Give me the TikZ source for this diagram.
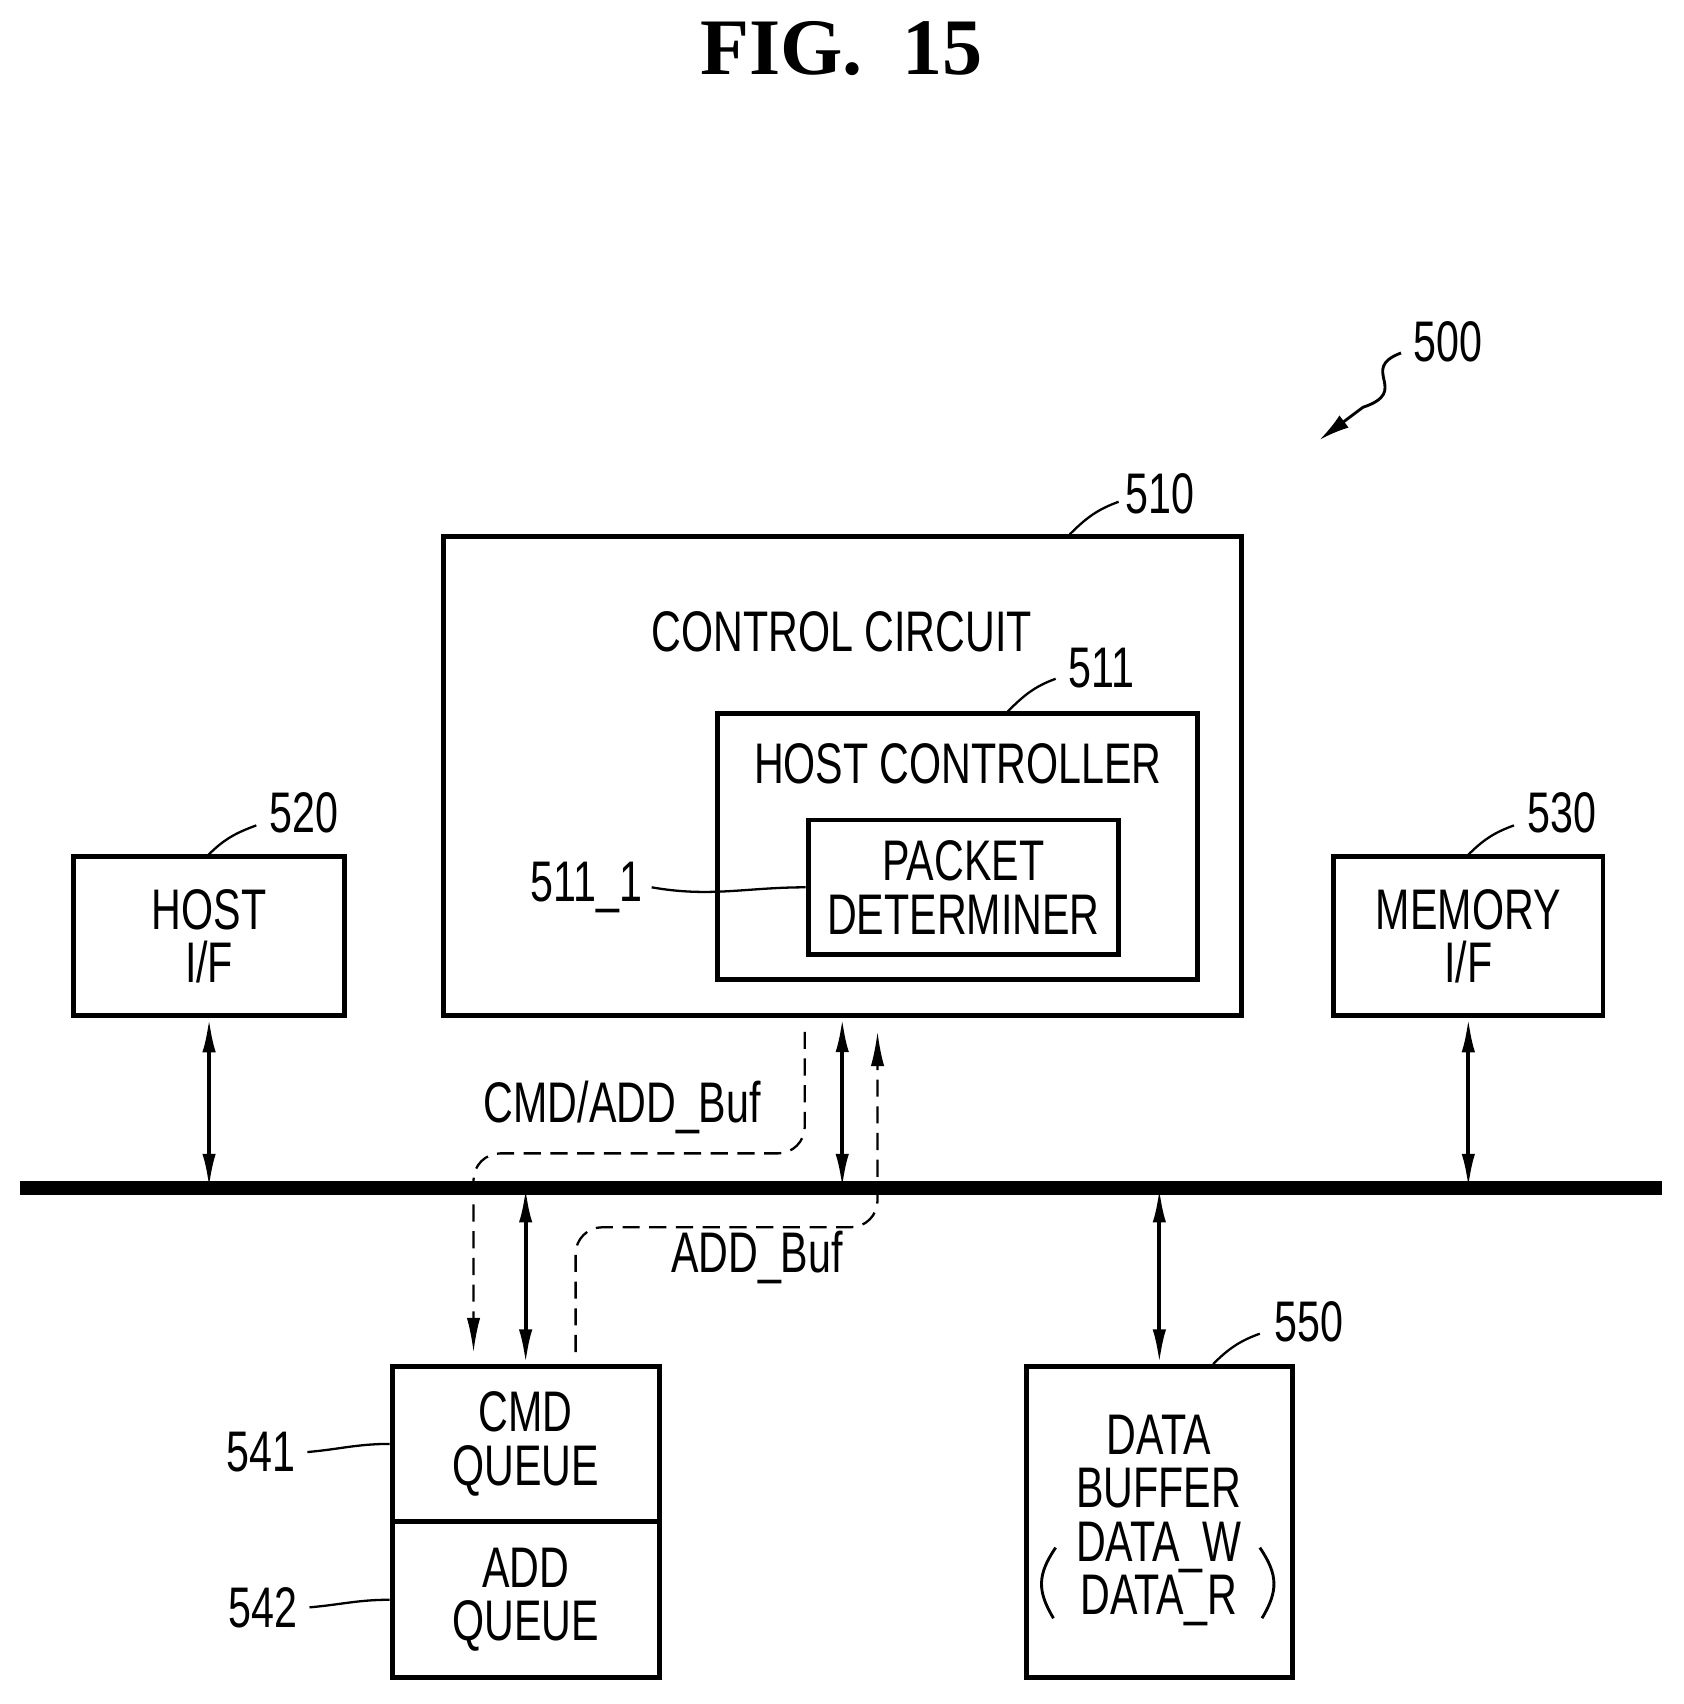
\documentclass[tikz,border=0pt]{standalone}
\usepackage{fontspec}
\setmainfont{Liberation Sans}[FakeStretch=0.72]
\newfontfamily\titlefont{Liberation Serif}
\usetikzlibrary{positioning}
\usetikzlibrary{arrows.meta}
\usetikzlibrary{calc}

\tikzset{
    blk/.style={draw, line width=2.6pt, inner sep=0pt, align=center},
    lbl/.style={font=\fontsize{30}{28}\selectfont},
    leader/.style={line width=1.2pt},
    link/.style={line width=2pt, {Latex[length=18pt,width=7pt]}-{Latex[length=18pt,width=7pt]}},
    dlink/.style={line width=1.2pt, dashed, dash pattern=on 9pt off 5pt, rounded corners=14pt, -{Latex[length=18pt,width=7pt]}},
}

\begin{document}
\begin{tikzpicture}[x=0.02cm, y=-0.02cm, font=\fontsize{30}{28}\selectfont]
        \useasboundingbox (0,0) rectangle (1550,1569);
        \node[font=\titlefont\bfseries\fontsize{42}{46}\selectfont] (title) at (775,45) {FIG.\ \ 15};

        % system reference
        \node[lbl] (n500) at (1333,315) {500};
        \draw[line width=1.5pt, -{Latex[length=16pt,width=8pt]}] (1290,325) .. controls (1250,340) and (1300,360) .. (1255,375) -- (1215,405);

        % control circuit
        \node[blk, minimum width=14.7cm, minimum height=8.82cm] (cc) at (775.5,714.5) {};
        \node (cctext) at (775,582) {CONTROL CIRCUIT};
        \node[lbl] (n510) at (1068,455) {510};
        \draw[leader] (985,492) to[out=45,in=200] (1030,462);

        % host controller
        \node[blk, minimum width=8.84cm, minimum height=4.9cm] (hc) at (882,779.5) {};
        \node (hctext) at (882,703) {HOST CONTROLLER};
        \node[lbl] (n511) at (1014,615) {511};
        \draw[leader] (928,655) to[out=45,in=200] (972,625);

        % packet determiner
        \node[blk, minimum width=5.72cm, minimum height=2.48cm] (pd) at (887,817) {PACKET\\DETERMINER};
        \node[lbl] (n511a) at (540,817) {511\_1};
        \draw[leader] (600,817) to[out=-10,in=180] (pd.west);

        % interfaces
        \node[blk, minimum width=4.98cm, minimum height=2.92cm] (hif) at (192.5,862) {HOST\\I/F};
        \node[lbl] (n520) at (280,748) {520};
        \draw[leader] (192,787) to[out=45,in=200] (236,760);
        \node[blk, minimum width=4.96cm, minimum height=2.92cm] (mif) at (1352,862) {MEMORY\\I/F};
        \node[lbl] (n530) at (1438,748) {530};
        \draw[leader] (1352,787) to[out=45,in=200] (1394,760);

        % bus
        \draw[line width=7pt] (18,1094) coordinate (busL) -- (1530,1094) coordinate (busR);

        % queues and buffer
        \node[blk, minimum width=4.92cm, minimum height=2.86cm] (cq) at (484,1329.5) {CMD\\QUEUE};
        \node[blk, minimum width=4.92cm, minimum height=2.88cm] (aq) at (484,1473) {ADD\\QUEUE};
        \node[lbl] (n541) at (240,1337) {541};
        \draw[leader] (283,1337) to[out=5,in=180] (cq.west);
        \node[lbl] (n542) at (242,1480) {542};
        \draw[leader] (285,1480) to[out=5,in=180] (aq.west);

        \node[blk, minimum width=4.9cm, minimum height=5.74cm] (db) at (1067.5,1401.5) {};
        \node[align=center] (dbtext) at (1067,1400) {DATA\\BUFFER\\DATA\_W\\DATA\_R};
        \draw[line width=1.5pt] (972,1425) .. controls (955,1450) and (955,1465) .. (970,1490);
        \draw[line width=1.5pt] (1160,1425) .. controls (1177,1450) and (1177,1465) .. (1162,1490);
        \node[lbl] (n550) at (1205,1217) {550};
        \draw[leader] (1117,1256) to[out=45,in=200] (1160,1228);

        % connections to bus
        \draw[link] (hif.south) -- (hif.south |- busL);
        \draw[link] (mif.south) -- (mif.south |- busL);
        \draw[link] (cc.south) -- (cc.south |- busL);
        \draw[link] (cq.north |- busL) -- (cq.north);
        \draw[link] (db.north |- busL) -- (db.north);

        % buffer status paths
        \draw[dlink] (741,950) -- (741,1062) -- (436,1062) -- (436,1245);
        \node (cmdbuf) at (573,1020) {CMD/ADD\_Buf};
        \draw[dlink] (530,1245) -- (530,1130) -- (808,1130) -- (808,950);
        \node (addbuf) at (697,1158) {ADD\_Buf};
\end{tikzpicture}
\end{document}
